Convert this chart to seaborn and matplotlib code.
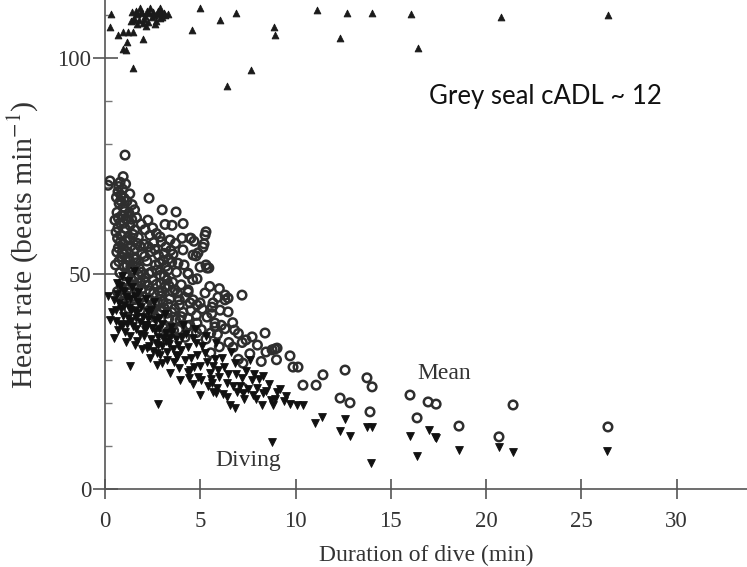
import matplotlib
matplotlib.use("Agg")
import matplotlib.pyplot as plt
import seaborn as sns
import pandas as pd
from matplotlib.ticker import MultipleLocator

# ---------------- data ----------------
# Surface heart rate (upward triangles)
surface_x = [0.31, 0.26, 0.68, 0.94, 1.21, 1.47, 1.15, 0.94, 1.10, 1.99, 1.47, 4.57, 6.04, 6.88,
             6.40, 7.66, 8.87, 8.92, 11.13, 12.34, 12.70, 14.02, 16.06, 16.43, 20.79, 26.40,
             1.42, 1.68, 1.89, 2.10, 2.31, 2.52, 2.73, 2.94, 3.15, 1.52, 1.78, 2.05, 2.26, 2.47,
             2.68, 2.89, 3.10, 1.36, 1.99, 2.62, 3.31, 1.84, 2.36, 2.89, 4.99,
             1.60, 1.95, 2.20, 2.58, 2.80, 3.00, 1.70, 2.15, 1.45]
surface_y = [110.2, 107.2, 105.3, 106.0, 106.0, 106.0, 103.7, 102.1, 101.9, 104.4, 97.7, 106.5, 108.8, 110.4,
             93.5, 97.2, 107.2, 105.3, 111.1, 104.6, 110.4, 110.4, 110.2, 102.3, 109.5, 110.0,
             110.7, 110.2, 110.7, 109.7, 110.4, 110.7, 110.2, 110.7, 110.0, 109.3, 108.8, 109.0, 108.4, 109.5,
             108.6, 109.3, 110.4, 108.6, 108.1, 107.9, 110.2, 111.6, 111.6, 111.6, 111.6,
             110.9, 110.5, 110.9, 110.0, 111.0, 109.6, 107.9, 107.4, 108.9]

# Mean heart rate (open circles)
mean_x = [1.05, 0.26, 0.16, 0.95, 0.79, 2.31, 3.00, 3.73, 4.10, 3.15, 3.52, 0.52, 0.68, 5.30, 5.20,
          4.51, 4.67, 3.57, 4.78, 4.15, 5.30, 5.45, 4.36, 4.83,
          5.25, 6.30, 6.46, 7.19, 4.36, 5.67, 4.46, 4.83, 8.40, 8.77, 9.03, 9.71, 9.87, 10.13, 10.39,
          11.08, 11.44, 12.60, 12.34, 12.86, 13.75, 14.02, 13.91, 16.01, 16.38, 16.96, 17.38, 18.58,
          21.42, 20.68, 26.40, 7.24, 7.72, 6.72, 5.77, 8.45, 8.92, 7.24,
          2.89, 3.41, 4.04, 4.46, 5.25, 5.14, 4.62, 4.88, 3.83, 4.09, 4.36, 4.99, 5.35, 3.67, 4.36,
          4.62, 4.99, 5.93, 6.30, 5.62, 6.04, 6.46, 3.94, 4.36, 4.83, 5.35, 5.77,
          0.68, 0.84, 1.00, 0.74, 0.95, 1.15, 0.63, 0.89, 1.10, 1.26, 0.79, 1.05, 1.31, 0.58, 0.84,
          1.20, 1.47, 0.95, 1.36, 0.70, 1.12, 1.58, 0.86, 1.30, 1.65, 1.00, 1.45, 0.78, 1.22, 1.75,
          0.95, 1.52, 1.88, 1.15, 1.68, 0.65, 2.00, 1.40, 2.15, 1.85,
          1.65, 1.90, 2.10, 1.75, 2.35, 2.05, 2.55, 1.95, 2.40, 2.80, 2.20, 2.65, 3.05, 2.45, 2.90,
          3.30, 2.10, 2.70, 3.15, 3.55, 2.35, 2.95, 3.40, 3.80, 2.60, 3.10, 3.65, 2.80, 3.35, 3.90,
          2.50, 3.05, 4.10, 3.60, 4.30,
          4.00, 4.60, 5.50, 6.00, 4.20, 4.80, 5.30, 5.90, 6.30, 6.70, 7.00, 6.50, 7.40, 7.60, 8.00,
          7.00, 8.20, 9.00,
          0.72, 0.92, 1.08, 0.60, 0.82, 1.02, 1.22, 0.70, 0.98, 1.40, 0.66, 1.08, 1.28, 0.90, 1.50,
          0.72, 1.15, 1.38, 0.85, 1.08, 1.30, 1.60, 1.95, 1.80, 1.85, 1.55, 1.70, 2.25, 2.50, 2.70,
          2.95, 3.20, 3.45, 3.70, 3.20, 3.50, 3.75, 2.25, 2.55, 3.25, 3.00, 3.55, 3.90, 4.20, 2.40,
          2.75, 3.25, 3.70, 4.00, 4.50, 4.80, 5.10, 5.60, 3.30, 3.85, 4.45, 5.05, 5.55, 6.10, 6.80,
          7.20, 6.00, 5.55,
          0.80, 1.00, 1.18, 1.35, 1.55, 1.75, 1.92, 2.12, 2.30, 2.52, 2.72, 2.92, 3.12, 3.35, 1.62,
          2.08, 2.28, 2.62, 2.86, 3.10, 3.34, 1.25, 1.55, 1.80, 2.05, 2.30, 2.48, 2.85, 3.05, 3.30,
          3.50, 2.65, 2.95, 0.92, 1.05, 0.55, 0.62, 1.42, 1.30, 1.55]
mean_y = [77.5, 71.5, 70.5, 72.5, 71.2, 67.5, 64.8, 64.3, 61.6, 61.4, 61.2, 62.4, 60.6, 59.7, 56.9,
          58.2, 57.5, 54.5, 54.1, 52.0, 52.0, 51.3, 49.9, 48.8,
          45.5, 45.0, 44.3, 45.0, 46.2, 43.2, 43.2, 42.7, 36.2, 32.3, 32.7, 30.9, 28.3, 28.3, 24.1,
          24.1, 26.5, 27.6, 21.1, 20.0, 25.8, 23.7, 17.9, 21.8, 16.5, 20.2, 19.7, 14.6,
          19.5, 12.1, 14.4, 29.2, 35.3, 32.9, 37.6, 31.8, 32.5, 23.4,
          58.5, 57.8, 58.2, 58.2, 58.9, 56.1, 54.3, 54.8, 52.4, 55.5, 50.1, 51.5, 51.3, 46.2, 45.7,
          43.9, 43.2, 44.5, 43.9, 42.2, 41.5, 41.1, 39.2, 39.7, 38.5, 39.9, 38.5,
          69.0, 68.2, 67.5, 66.3, 65.4, 66.8, 64.2, 63.5, 62.7, 64.0, 61.8, 60.5, 61.2, 59.6, 58.9,
          58.3, 59.1, 57.0, 56.4, 56.0, 55.2, 55.8, 53.9, 53.0, 52.5, 51.6, 50.8, 50.2, 49.3, 49.8,
          48.1, 47.4, 47.9, 46.3, 45.2, 45.8, 44.6, 43.8, 42.9, 41.5,
          63.0, 61.5, 60.2, 58.4, 58.9, 56.8, 57.2, 54.6, 55.1, 54.3, 52.9, 52.0, 53.1, 50.4, 49.6,
          50.8, 49.0, 47.5, 46.9, 48.0, 46.0, 44.8, 44.1, 45.5, 43.2, 42.0, 41.8, 40.5, 39.6, 42.7,
          38.8, 37.5, 41.0, 36.8, 37.9,
          47.4, 48.6, 47.0, 46.5, 35.2, 36.3, 34.8, 35.9, 37.2, 38.6, 36.1, 34.0, 34.6, 31.4, 33.4,
          30.1, 29.6, 30.0,
          70.2, 69.6, 70.8, 67.7, 66.9, 64.4, 63.3, 62.9, 61.7, 62.6, 58.2, 57.6, 57.8, 55.0, 53.6,
          52.8, 51.9, 48.6, 47.0, 44.9, 45.5, 44.0, 46.5, 51.2, 56.3, 60.1, 57.0, 62.4, 60.6, 59.3,
          57.4, 56.2, 55.4, 57.0, 51.7, 52.6, 50.3, 47.3, 45.4, 48.5, 45.8, 45.8, 43.9, 44.4, 41.5,
          43.4, 40.8, 39.3, 40.0, 41.4, 40.3, 41.8, 40.7, 36.5, 37.0, 38.0, 37.0, 36.2, 38.0, 36.9,
          34.0, 33.0, 31.6,
          57.3, 54.5, 53.3, 51.5, 49.0, 47.0, 50.3, 48.0, 50.0, 48.4, 50.8, 47.8, 49.4, 47.2, 53.4,
          54.0, 56.2, 55.6, 52.4, 54.7, 53.4, 41.8, 42.8, 44.5, 43.0, 44.2, 42.2, 45.9, 43.5, 42.9,
          41.0, 39.8, 41.2, 43.5, 49.5, 52.0, 55.0, 66.0, 68.5, 64.8]

# Diving heart rate (downward triangles)
diving_x = [0.16, 0.26, 0.47, 1.31, 2.78, 2.20, 2.78, 3.25, 3.78, 4.62, 4.36, 5.62, 5.83, 6.40,
            6.82, 6.56, 8.24, 8.82, 7.24, 7.77, 8.29, 9.03, 9.71, 10.08, 10.39, 11.39, 11.02, 12.60,
            12.34, 12.86, 13.75, 14.02, 13.96, 16.01, 16.38, 17.00, 17.32, 17.38, 18.58, 20.68,
            21.42, 26.35, 8.77, 5.67, 4.46, 4.99, 3.94, 3.41, 2.99,
            0.55, 0.75, 0.95, 1.10, 0.65, 0.88, 1.25, 1.40, 0.80, 1.05, 1.35, 1.55, 0.45, 1.20, 1.60,
            1.75, 0.70, 1.50,
            1.85, 2.05, 2.25, 2.45, 2.65, 2.85, 3.05, 3.25, 3.45, 1.95, 2.35, 2.75, 3.15, 2.55, 1.70,
            2.15, 3.35, 2.90, 3.60,
            3.75, 4.00, 4.25, 4.50, 4.75, 5.00, 5.25, 5.50, 5.75, 6.00, 6.25, 3.90, 4.40, 4.90, 5.40,
            5.90, 6.40, 4.10, 4.70, 5.30, 5.80, 6.60, 6.20, 6.90,
            7.10, 7.40, 7.70, 8.00, 8.30, 8.60, 8.90, 9.20, 7.30, 7.90, 9.50, 6.80, 7.60,
            0.35, 0.58, 0.85, 1.00, 1.18, 1.30, 1.45, 1.62, 1.72, 1.90, 2.00, 2.20, 2.40, 2.60, 2.80,
            3.00, 3.20, 3.40, 3.55, 3.70, 3.85, 4.05, 4.35, 4.60, 4.85, 5.10, 5.35, 5.65, 5.95, 6.15,
            6.45, 6.70, 6.95, 7.20, 7.50, 7.80, 8.10, 8.45, 8.70, 9.40, 4.20, 4.65, 5.05, 5.55, 2.50,
            2.10, 1.10, 0.90,
            0.62, 0.78, 1.00, 1.15, 1.38, 1.55, 1.68, 1.82, 2.02, 2.25, 2.42, 2.62, 2.82, 3.00, 3.22,
            3.50, 1.30, 1.58, 2.32, 2.72]
diving_y = [44.8, 39.2, 35.0, 28.5, 19.7, 32.7, 33.4, 29.9, 30.6, 24.4, 27.1, 24.6, 22.3, 21.3,
            18.8, 19.5, 19.5, 19.5, 22.3, 21.8, 22.3, 22.5, 19.7, 19.5, 19.5, 16.7, 15.3, 16.2,
            13.5, 12.3, 14.4, 14.4, 6.0, 12.3, 7.7, 13.7, 12.1, 11.8, 9.0, 9.7,
            8.6, 8.8, 10.9, 22.5, 27.6, 21.8, 25.3, 26.9, 29.2,
            41.5, 43.2, 40.1, 44.6, 47.8, 49.5, 42.0, 46.9, 38.2, 36.5, 39.0, 41.3, 43.9, 48.3, 37.1,
            43.5, 36.9, 50.6,
            38.8, 35.6, 41.0, 37.4, 33.9, 39.6, 35.0, 31.8, 37.6, 32.6, 30.4, 28.7, 40.5, 43.3, 34.3,
            44.2, 33.7, 31.0, 29.4,
            34.9, 32.2, 36.0, 30.5, 33.8, 28.6, 31.6, 27.0, 30.2, 26.0, 28.4, 28.0, 25.8, 26.1, 24.0,
            23.4, 24.5, 38.0, 37.2, 35.5, 33.8, 31.7, 22.0, 26.6,
            24.0, 27.5, 25.2, 23.4, 26.3, 24.4, 21.0, 23.2, 20.8, 21.0, 21.5, 29.3, 30.0,
            41.0, 39.0, 41.8, 46.0, 39.6, 44.0, 37.8, 39.7, 45.8, 42.3, 40.0, 38.0, 34.8, 36.7, 35.3,
            38.2, 36.3, 35.0, 32.4, 31.0, 33.4, 35.3, 33.0, 35.0, 31.2, 33.2, 29.5, 28.6, 27.6, 30.5,
            26.8, 24.0, 22.6, 25.8, 23.2, 26.7, 25.5, 22.8, 20.6, 20.4, 30.0, 28.3, 25.2, 25.6, 32.0,
            36.9, 34.2, 37.9,
            45.2, 47.0, 42.8, 38.4, 41.6, 44.8, 40.9, 36.0, 38.1, 39.5, 41.6, 39.2, 37.2, 33.2, 34.4,
            36.4, 35.5, 33.4, 33.1, 31.6]

x_ticks = [0, 5, 10, 15, 20, 25, 30]
y_ticks = [0, 50, 100]

# ---------------- figure ----------------
sns.set_style("ticks")
plt.rcParams["font.family"] = ["Liberation Serif", "DejaVu Serif"]
plt.rcParams["mathtext.fontset"] = "stix"

fig = plt.figure(figsize=(7.47, 5.67), dpi=100)
ax = fig.add_axes([0.1406, 0.1376, 0.8594, 0.8624])

surface = pd.DataFrame({"x": surface_x, "y": surface_y})
mean = pd.DataFrame({"x": mean_x, "y": mean_y})
diving = pd.DataFrame({"x": diving_x, "y": diving_y})

sns.scatterplot(data=surface, x="x", y="y", marker="^", s=24, color="#1a1a1a",
                edgecolor="#1a1a1a", linewidth=0.6, ax=ax, zorder=3)
sns.scatterplot(data=mean, x="x", y="y", marker="o", s=38, facecolor="none",
                edgecolor="#2e2e2e", linewidth=1.8, ax=ax, zorder=3)
sns.scatterplot(data=diving, x="x", y="y", marker="v", s=32, color="#111111",
                edgecolor="#111111", linewidth=0.6, ax=ax, zorder=3)

ax.set_xlim(0, 33.7)
ax.set_ylim(0, 113.5)
ax.set_xticks(x_ticks)
ax.set_yticks(y_ticks)
ax.yaxis.set_minor_locator(MultipleLocator(10))

for s in ["top", "right"]:
    ax.spines[s].set_visible(False)
for s in ["left", "bottom"]:
    ax.spines[s].set_color("#555555")
    ax.spines[s].set_linewidth(1.2)

ax.tick_params(axis="x", which="major", direction="inout", length=14, width=1.2,
               colors="#555555", labelcolor="#333333", labelsize=16.5, pad=9)
ax.tick_params(axis="y", which="major", direction="inout", length=18, width=1.2,
               colors="#555555", labelcolor="#333333", labelsize=16.5, pad=1)
ax.tick_params(axis="y", which="minor", direction="in", length=5, width=1.0, colors="#777777")

ax.set_xlabel("Duration of dive (min)", fontsize=17, color="#333333", labelpad=9)
ax.set_ylabel(r"Heart rate (beats min$^{-1}$)", fontsize=21.5, color="#333333", labelpad=12)

ax.text(16.4, 26.7, "Mean", fontsize=17, color="#333333", ha="left", va="center")
ax.text(5.77, 6.7, "Diving", fontsize=17, color="#333333", ha="left", va="center")
ax.text(17.0, 91.0, "Grey seal cADL ~ 12", fontsize=18.5, color="#111111", ha="left",
        va="center", family=["Lato", "DejaVu Sans"])

fig.savefig("out.png", dpi=100)
